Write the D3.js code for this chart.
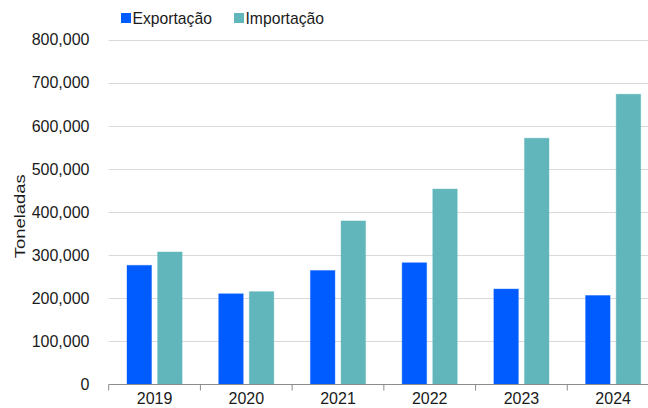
<!DOCTYPE html>
<html><head><meta charset="utf-8">
<script src="https://cdn.jsdelivr.net/npm/d3@7"></script>
<style>body{margin:0;background:#fff;overflow:hidden}svg{display:block;font-family:"Liberation Sans",Arial,sans-serif}</style>
</head><body>
<script>
const years = ["2019","2020","2021","2022","2023","2024"];
const exportacao = [276000, 210000, 264000, 282000, 221000, 206000];
const importacao = [307000, 215000, 379000, 453000, 571000, 673000];
const seriesNames = ["Exportação","Importação"];
const colors = ["#005cff","#60b6bb"];
const yTicks = [0,100000,200000,300000,400000,500000,600000,700000,800000];

const W=648,H=408;
const svg=d3.select("body").append("svg").attr("width",W).attr("height",H);
const x0=d3.scaleBand().domain(years).range([108.7,659]).paddingInner(0).paddingOuter(0);
const y=d3.scaleLinear().domain([0,800000]).range([384.3,39.5]);
const x1=d3.scaleBand().domain(seriesNames).range([18.3, x0.bandwidth()-18.3]).paddingInner(0.2);

// gridlines
svg.append("g").selectAll("line").data(yTicks.slice(1)).join("line")
  .attr("x1",108.7).attr("x2",660).attr("y1",d=>Math.round(y(d))+0.5).attr("y2",d=>Math.round(y(d))+0.5)
  .attr("stroke","#d9d9d9").attr("stroke-width",1);

// y tick labels
svg.append("g").selectAll("text").data(yTicks).join("text")
  .attr("x",89.5).attr("y",d=>y(d)+5.8).attr("text-anchor","end")
  .attr("font-size",16).attr("fill","#1a1a1a").text(d=>d3.format(",")(d));

// bars
const data = years.map((yr,i)=>({yr, vals:[exportacao[i],importacao[i]]}));
const g=svg.append("g");
data.forEach(d=>{
  d.vals.forEach((v,j)=>{
    g.append("rect")
      .attr("x",x0(d.yr)+x1(seriesNames[j]))
      .attr("width",x1.bandwidth())
      .attr("y",y(v)).attr("height",y(0)-y(v))
      .attr("fill",colors[j]).attr("stroke",colors[j]).attr("stroke-opacity",0.4).attr("stroke-width",1);
  });
});

// x axis
const xa=svg.append("g").attr("transform",`translate(0,${Math.round(y(0))+0.5})`)
  .call(d3.axisBottom(x0).tickSize(0).tickPadding(8));
xa.select(".domain").attr("stroke","#8c8c8c").attr("d","M108.7,0H660");
xa.selectAll("text").attr("font-size",16).attr("fill","#1a1a1a").attr("font-family","Liberation Sans, Arial, sans-serif");
// tick marks at band boundaries
xa.append("g").selectAll("line").data(years).join("line")
  .attr("x1",d=>x0(d)).attr("x2",d=>x0(d)).attr("y1",0).attr("y2",6).attr("stroke","#8c8c8c");

// y label
svg.append("text").attr("transform","translate(24.5,216.3) rotate(-90)")
  .attr("text-anchor","middle").attr("font-size",15).attr("fill","#1a1a1a")
  .attr("textLength",84).attr("lengthAdjust","spacingAndGlyphs").text("Toneladas");

// legend
const legX=[121,234];
seriesNames.forEach((n,i)=>{
  svg.append("rect").attr("x",legX[i]).attr("y",13).attr("width",10).attr("height",10).attr("fill",colors[i]);
  svg.append("text").attr("x",legX[i]+11.5).attr("y",23.8).attr("font-size",15.7).attr("fill","#1a1a1a").text(n);
});
</script>
</body></html>
